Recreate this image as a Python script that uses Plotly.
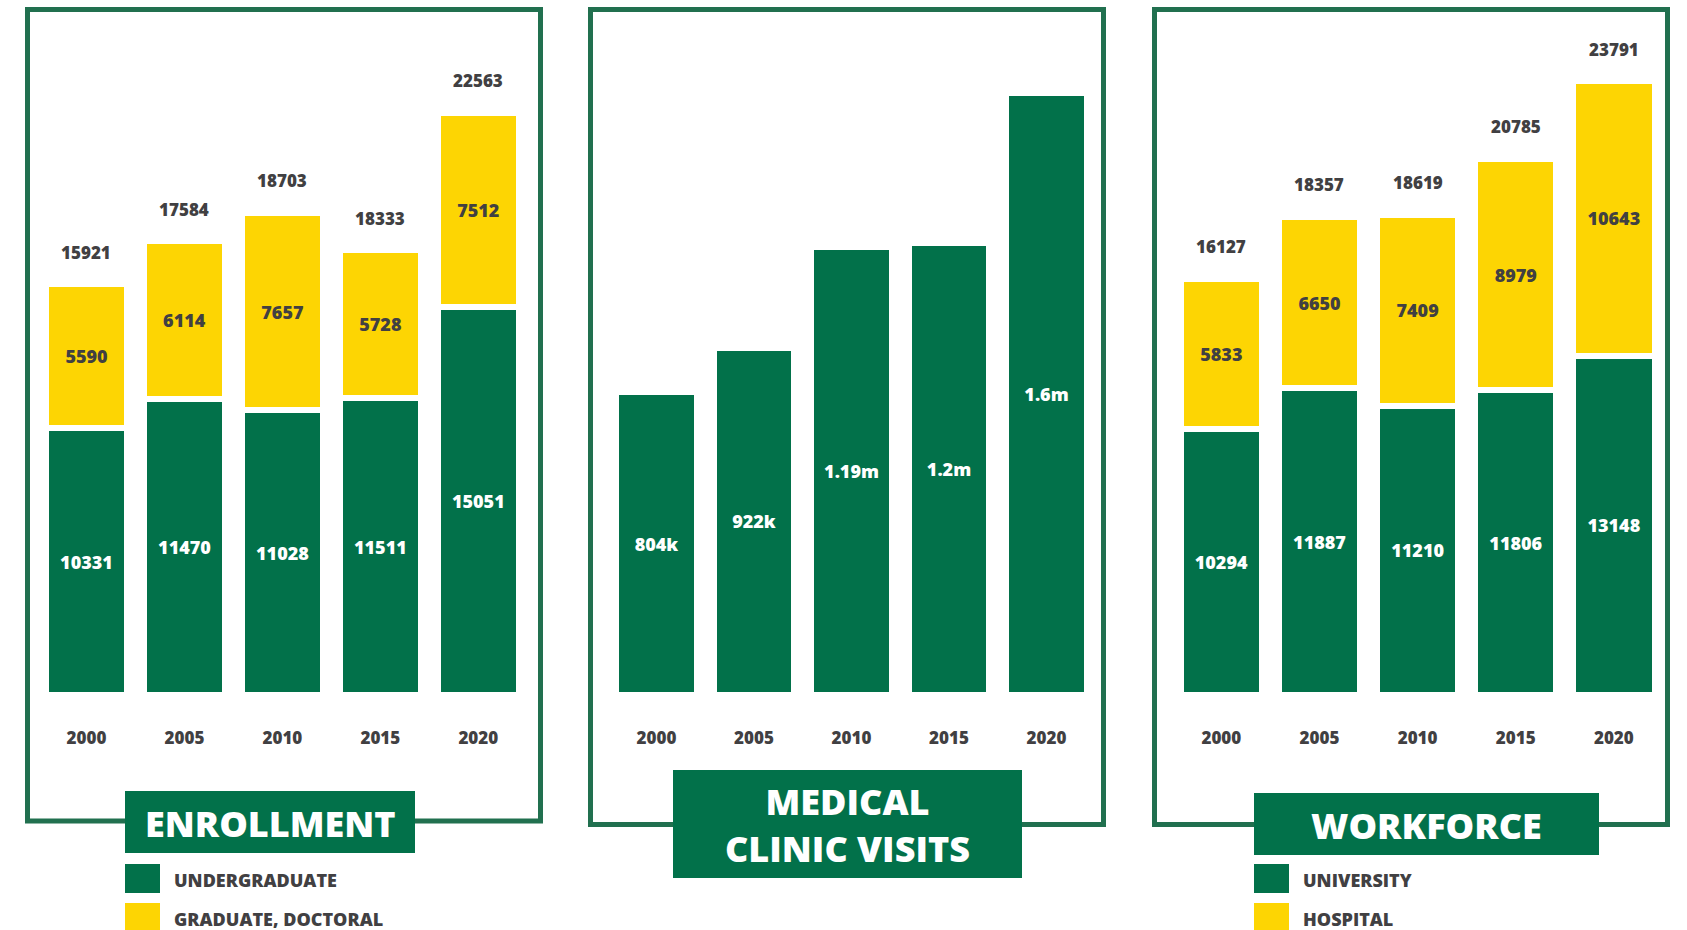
import plotly.graph_objects as go

# ---------------- data ----------------
years = ["2000", "2005", "2010", "2015", "2020"]

undergraduate = [10331, 11470, 11028, 11511, 15051]
graduate_doctoral = [5590, 6114, 7657, 5728, 7512]
enrollment_total_labels = ["15921", "17584", "18703", "18333", "22563"]

clinic_visits = [804000, 922000, 1190000, 1200000, 1600000]
clinic_labels = ["804k", "922k", "1.19m", "1.2m", "1.6m"]

university = [10294, 11887, 11210, 11806, 13148]
hospital = [5833, 6650, 7409, 8979, 10643]
workforce_total_labels = ["16127", "18357", "18619", "20785", "23791"]

# ---------------- style ----------------
W, H = 1687, 930
GREEN = "#02714A"
BORDER = "#21704F"
YELLOW = "#FDD503"
GREY = "#414042"
FONT = "Open Sans"
WT = 800


def px(x):
    return x / W


def py(y):
    return 1 - y / H


fig = go.Figure()

bar_line = dict(color="white", width=6)
in_font_w = dict(family=FONT, size=18, color="white", weight=WT)
in_font_d = dict(family=FONT, size=18, color=GREY, weight=WT)

# Enrollment
fig.add_trace(go.Bar(x=years, y=undergraduate, name="UNDERGRADUATE", xaxis="x", yaxis="y",
                     marker=dict(color=GREEN, line=bar_line),
                     text=[str(v) for v in undergraduate], textposition="inside",
                     insidetextanchor="middle", textangle=0, textfont=in_font_w))
fig.add_trace(go.Bar(x=years, y=graduate_doctoral, name="GRADUATE, DOCTORAL", xaxis="x", yaxis="y",
                     marker=dict(color=YELLOW, line=bar_line),
                     text=[str(v) for v in graduate_doctoral], textposition="inside",
                     insidetextanchor="middle", textangle=0, textfont=in_font_d))
# Medical clinic visits
fig.add_trace(go.Bar(x=years, y=clinic_visits, name="MEDICAL CLINIC VISITS", xaxis="x2", yaxis="y2",
                     marker=dict(color=GREEN, line=bar_line),
                     text=clinic_labels, textposition="inside",
                     insidetextanchor="middle", textangle=0, textfont=in_font_w))
# Workforce
fig.add_trace(go.Bar(x=years, y=university, name="UNIVERSITY", xaxis="x3", yaxis="y3",
                     marker=dict(color=GREEN, line=bar_line),
                     text=[str(v) for v in university], textposition="inside",
                     insidetextanchor="middle", textangle=0, textfont=in_font_w))
fig.add_trace(go.Bar(x=years, y=hospital, name="HOSPITAL", xaxis="x3", yaxis="y3",
                     marker=dict(color=YELLOW, line=bar_line),
                     text=[str(v) for v in hospital], textposition="inside",
                     insidetextanchor="middle", textangle=0, textfont=in_font_d))

annotations = []
# totals above stacked bars (x given as category index)
for xref, yref, a, b, labels in [("x", "y", undergraduate, graduate_doctoral, enrollment_total_labels),
                                  ("x3", "y3", university, hospital, workforce_total_labels)]:
    for i, (va, vb, lab) in enumerate(zip(a, b, labels)):
        annotations.append(dict(x=i, y=va + vb, xref=xref, yref=yref, text=lab, showarrow=False,
                                yshift=32, yanchor="middle",
                                font=dict(family=FONT, size=17, color=GREY, weight=WT)))

shapes = []
# panel borders
for x0, x1, y1 in [(27.5, 540.5, 821), (590.5, 1103.5, 824.5), (1154.5, 1667.5, 824.5)]:
    shapes.append(dict(type="rect", xref="paper", yref="paper", x0=px(x0), x1=px(x1),
                       y0=py(y1), y1=py(9.5), line=dict(color=BORDER, width=5),
                       fillcolor="rgba(0,0,0,0)", layer="below"))
# title boxes
titles = [(125, 415, 791, 853, "ENROLLMENT"),
          (673, 1022, 770, 878, "MEDICAL<br>CLINIC VISITS"),
          (1254, 1599, 793, 855, "WORKFORCE")]
for x0, x1, y0, y1, t in titles:
    shapes.append(dict(type="rect", xref="paper", yref="paper", x0=px(x0), x1=px(x1),
                       y0=py(y1), y1=py(y0), line=dict(width=0), fillcolor=GREEN, layer="above"))
    annotations.append(dict(x=px((x0 + x1) / 2), y=py((y0 + y1) / 2 + 1), xref="paper", yref="paper",
                            text=t, showarrow=False, xanchor="center", yanchor="middle",
                            font=dict(family=FONT, size=36, color="white", weight=WT)))
# legends
legends = [(125, ["UNDERGRADUATE", "GRADUATE, DOCTORAL"]),
           (1254, ["UNIVERSITY", "HOSPITAL"])]
for x0, labs in legends:
    for (y0, y1), col, lab in zip([(864, 893), (903, 932)], [GREEN, YELLOW], labs):
        shapes.append(dict(type="rect", xref="paper", yref="paper", x0=px(x0), x1=px(x0 + 35),
                           y0=py(y1), y1=py(y0), line=dict(width=0), fillcolor=col, layer="above"))
        annotations.append(dict(x=px(x0 + 47), y=py((y0 + y1) / 2 + 1), xref="paper", yref="paper",
                                text=lab, showarrow=False, xanchor="left", yanchor="middle",
                                font=dict(family=FONT, size=18, color=GREY, weight=WT)))

zero_y = 695
y_dom_stack = [py(zero_y), py(695 - 26000 * 0.0258)]
y_dom_med = [py(zero_y), py(695 - 1800000 * 3.764e-4)]

xa = dict(type="category", showgrid=False, zeroline=False, showline=False, ticks="",
          ticklabelstandoff=31, automargin=False, range=[-0.5, 4.5],
          tickfont=dict(family=FONT, size=17, color=GREY, weight=WT), fixedrange=True)
ya = dict(visible=False, showgrid=False, zeroline=False, fixedrange=True, automargin=False)

fig.update_layout(
    width=W, height=H, margin=dict(l=0, r=0, t=0, b=0, pad=0, autoexpand=False),
    paper_bgcolor="white", plot_bgcolor="rgba(0,0,0,0)",
    barmode="stack", bargap=0.17, showlegend=False,
    xaxis=dict(xa, domain=[px(37.5), px(527.3)], anchor="y"),
    yaxis=dict(ya, domain=y_dom_stack, range=[0, 26000], anchor="x"),
    xaxis2=dict(xa, domain=[px(607.75), px(1095.25)], anchor="y2"),
    yaxis2=dict(ya, domain=y_dom_med, range=[0, 1800000], anchor="x2"),
    xaxis3=dict(xa, domain=[px(1172.3), px(1662.9)], anchor="y3"),
    yaxis3=dict(ya, domain=y_dom_stack, range=[0, 26000], anchor="x3"),
    shapes=shapes, annotations=annotations,
)

fig.write_html("out.html", config={"displayModeBar": False},
               post_script="document.body.style.margin='0';document.body.style.overflow='hidden';")
